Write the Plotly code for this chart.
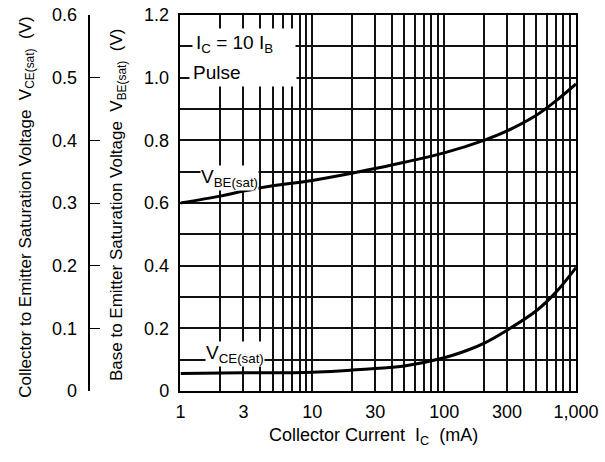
import plotly.graph_objects as go

ic_vbe = [1, 2, 3, 5, 10, 20, 30, 50, 100, 200, 300, 500, 700, 1000]
vbe_sat = [0.60, 0.622, 0.638, 0.655, 0.672, 0.695, 0.71, 0.73, 0.76, 0.80, 0.83, 0.88, 0.925, 0.98]

ic_vce = [1, 3, 10, 30, 50, 100, 150, 200, 300, 500, 700, 1000]
vce_sat = [0.028, 0.029, 0.030, 0.036, 0.040, 0.053, 0.065, 0.076, 0.097, 0.128, 0.157, 0.197]

x_tickvals = [1, 3, 10, 30, 100, 300, 1000]
x_ticktext = ["1", "3", "10", "30", "100", "300", "1,000"]
x_minor = [m * d for d in (1, 10, 100) for m in range(2, 10) if m * d not in (3, 30, 300)]

vbe_tickvals = [0, 0.2, 0.4, 0.6, 0.8, 1.0, 1.2]
vbe_ticktext = ["0", "0.2", "0.4", "0.6", "0.8", "1.0", "1.2"]
vce_tickvals = [0, 0.1, 0.2, 0.3, 0.4, 0.5, 0.6]
vce_ticktext = ["0", "0.1", "0.2", "0.3", "0.4", "0.5", "0.6"]

FONT = "Liberation Sans, Arial, sans-serif"
W, H = 605, 462
ML, MR, MT, MB = 5, 29, 13, 71
PW = W - ML - MR
PH = H - MT - MB


def px(xp):
    return (xp - ML) / PW


def py(yp):
    return (H - MB - yp) / PH


fig = go.Figure()
fig.add_trace(go.Scatter(x=ic_vbe, y=vbe_sat, mode="lines", yaxis="y",
                         line=dict(color="black", width=3, shape="spline"),
                         showlegend=False))
fig.add_trace(go.Scatter(x=ic_vce, y=vce_sat, mode="lines", yaxis="y2",
                         line=dict(color="black", width=3, shape="spline"),
                         showlegend=False))

grid_c = "#111111"
GW = 1.5
fig.update_layout(
    width=W, height=H,
    margin=dict(l=ML, r=MR, t=MT, b=MB),
    plot_bgcolor="white", paper_bgcolor="white",
    font=dict(family=FONT, size=18, color="black"),
    xaxis=dict(type="log", range=[0, 3], domain=[px(177), 1],
               tickvals=x_tickvals, ticktext=x_ticktext, ticks="",
               showgrid=True, gridcolor=grid_c, gridwidth=GW,
               minor=dict(tickvals=x_minor, showgrid=True, gridcolor=grid_c, gridwidth=GW, ticks=""),
               showline=True, linecolor="black", linewidth=1.5, mirror=True,
               ticklabelstandoff=4, zeroline=False),
    yaxis=dict(range=[0, 1.2], tickvals=vbe_tickvals, ticktext=vbe_ticktext,
               ticks="", showgrid=True, gridcolor=grid_c, gridwidth=GW,
               minor=dict(dtick=0.1, showgrid=True, gridcolor=grid_c, gridwidth=GW),
               showline=True, linecolor="black", linewidth=1.5, mirror=True,
               zeroline=False, ticklabelstandoff=6),
    yaxis2=dict(range=[0, 0.6], tickvals=vce_tickvals, ticktext=vce_ticktext,
                overlaying="y", anchor="free", side="left", position=px(85),
                ticks="inside", ticklen=10, tickwidth=1.3, tickcolor="black",
                showline=True, linecolor="black", linewidth=1.5,
                showgrid=False, zeroline=False, ticklabelstandoff=8),
)

ann = [
    dict(text="I<sub>C</sub> = 10 I<sub>B</sub>", x=px(189), y=py(42), xanchor="left", yanchor="middle",
         font=dict(size=19), bgcolor="white", borderpad=3, width=96, align="left"),
    dict(text="Pulse", x=px(186), y=py(71), xanchor="left", yanchor="middle",
         font=dict(size=19), bgcolor="white", borderpad=3, width=100, align="left"),
    dict(text="V<sub>BE(sat)</sub>", x=px(197), y=py(177), xanchor="left", yanchor="middle",
         font=dict(size=19), bgcolor="white", borderpad=0),
    dict(text="V<sub>CE(sat)</sub>", x=px(202), y=py(354), xanchor="left", yanchor="middle",
         font=dict(size=19), bgcolor="white", borderpad=0),
    dict(text="Collector Current  I<sub>C</sub>  (mA)", x=px(372), y=py(437),
         xanchor="center", yanchor="middle", font=dict(size=18)),
    dict(text="Collector to Emitter Saturation Voltage  V<sub>CE(sat)</sub>  (V)", x=px(22), y=py(206),
         xanchor="center", yanchor="middle", textangle=-90, font=dict(size=17)),
    dict(text="Base to Emitter Saturation Voltage  V<sub>BE(sat)</sub>  (V)", x=px(114), y=py(204),
         xanchor="center", yanchor="middle", textangle=-90, font=dict(size=17)),
]
for a in ann:
    a.update(xref="paper", yref="paper", showarrow=False)
fig.update_layout(annotations=ann)

fig.write_html("out.html")
